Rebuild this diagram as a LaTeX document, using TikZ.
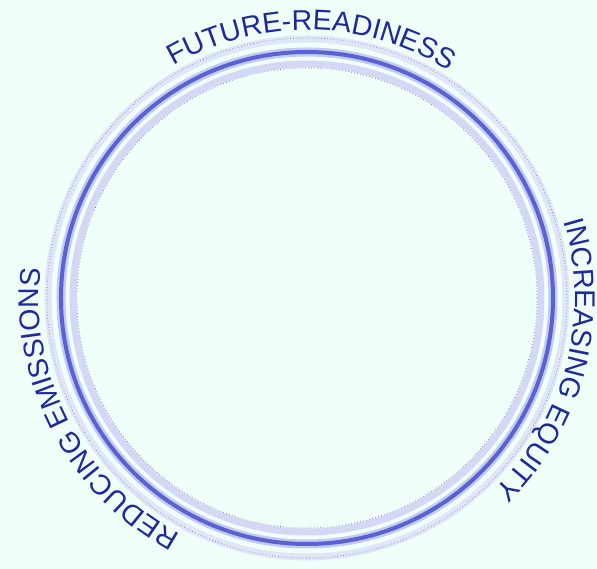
\documentclass[tikz,border=0pt]{standalone}
\usepackage{fontspec}
\setmainfont{Liberation Sans}
\usetikzlibrary{decorations.text}
\definecolor{bgmint}{RGB}{240,255,250}
\definecolor{txtblue}{RGB}{30,40,160}
\definecolor{ringdark}{RGB}{88,98,210}
\definecolor{ringglow}{RGB}{196,202,242}
\definecolor{ringlight}{RGB}{212,216,245}
\definecolor{ringfaint}{RGB}{224,230,248}
\definecolor{dotc}{RGB}{120,125,170}
\tikzset{
  glowband/.style={draw=ringfaint, line width=7pt},
  darkglow/.style={draw=ringglow, line width=9pt},
  darkcore/.style={draw=ringdark, line width=4pt},
  lightband/.style={draw=ringlight, line width=7pt},
  dotline/.style={draw=dotc, line width=0.7pt, dash pattern=on 0.7pt off 2.4pt},
  arctext/.style={decorate, decoration={text along path, text align=center,
     text={|\fontsize{28.5}{30}\selectfont\color{txtblue}|#1}}}
}
\begin{document}
\begin{tikzpicture}[x=1pt,y=1pt]
\fill[bgmint] (-307,-271) rectangle (290,298);
\useasboundingbox (-307,-271) rectangle (290,298);
\coordinate (c) at (0,0);
% outer faint band and dotted line
\draw[glowband] (c) circle[radius=259];
\draw[dotline] (c) circle[radius=260];
% dark ring
\draw[darkglow] (c) circle[radius=246];
\draw[darkcore] (c) circle[radius=246];
% inner light band and dotted line
\draw[lightband] (c) circle[radius=234];
\draw[dotline] (c) circle[radius=230];
% texts along the circle (clockwise)
\path[arctext={FUTURE-READINESS}] (129:268) arc[start angle=129, end angle=49, radius=268];
\path[arctext={INCREASING EQUITY}] (25.5:268) arc[start angle=25.5, end angle=-54.5, radius=268];
\path[arctext={REDUCING EMISSIONS}] (250:268) arc[start angle=250, end angle=165.5, radius=268];
\end{tikzpicture}
\end{document}
